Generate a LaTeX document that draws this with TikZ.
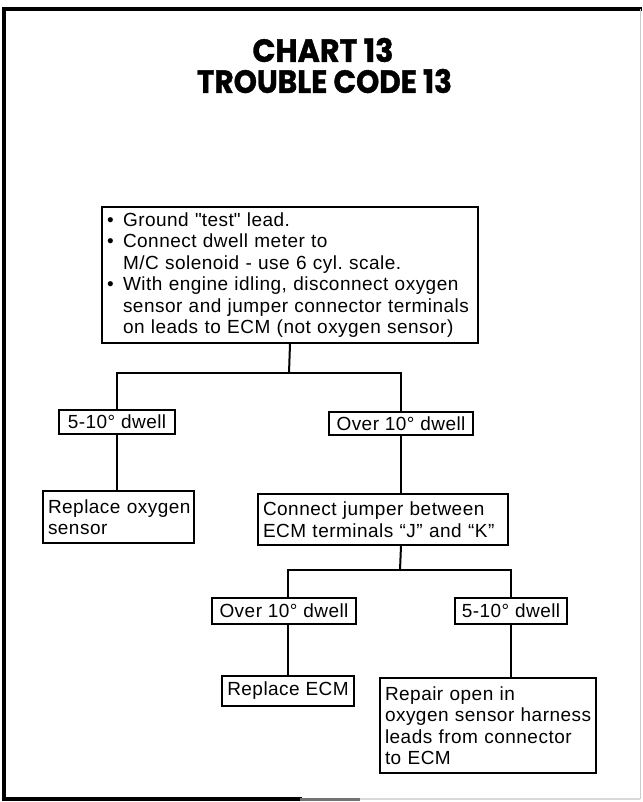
\documentclass[tikz,border=0pt]{standalone}
\usepackage{fontspec}
\usepackage{graphicx}
\setmainfont{Liberation Sans}[LetterSpace=2.5]
\newfontfamily\headfont{Poppins}[FakeBold=1.2]
\frenchspacing
\begin{document}
\begin{tikzpicture}[x=1pt,y=-1pt,
  box/.style={draw,line width=2pt,anchor=north west,inner xsep=5pt,inner ysep=0pt,
    font=\fontsize{19}{21.5}\selectfont},
  lbox/.style={box,align=left},
  cbox/.style={box,align=center},
  link/.style={line width=2pt},
  frame/.style={line width=3.5pt,line cap=rect}]
\useasboundingbox (0,0) rectangle (642,802);

% page frame
\draw[frame] (640,9) -- (4,9) -- (4,799) -- (300,799);
\draw[line width=3pt,black!55] (300,799) -- (360,799);
\draw[line width=2pt,black!15] (360,799) -- (640,799);
\draw[line width=1pt,black!20] (640,9) -- (640,799);

% heading
\node[inner sep=0pt] (head1) at (323,50) {\resizebox{141pt}{24pt}{\headfont\bfseries CHART 13}};
\node[inner sep=0pt] (head2) at (324.5,81) {\resizebox{255pt}{24pt}{\headfont\bfseries TROUBLE CODE 13}};

% first test
\node[lbox,minimum width=376pt,minimum height=136pt,text width=366pt] (main) at (101,206)
 {\mbox{\makebox[16pt][l]{\textbullet}Ground \textquotedbl test\textquotedbl\ lead.}\\
  \mbox{\makebox[16pt][l]{\textbullet}Connect dwell meter to}\\
  \mbox{\hspace*{16pt}M/C solenoid - use 6 cyl. scale.}\\
  \mbox{\makebox[16pt][l]{\textbullet}With engine idling, disconnect oxygen}\\
  \mbox{\hspace*{16pt}sensor and jumper connector terminals}\\
  \mbox{\hspace*{16pt}on leads to ECM (not oxygen sensor)}};

% first readings
\node[cbox,minimum width=116pt,minimum height=24pt] (low1) at (58,409) {5-10° dwell};
\node[cbox,minimum width=144pt,minimum height=23pt] (high1) at (328,411) {Over 10° dwell};

\node[lbox,minimum width=151pt,minimum height=52pt,text width=141pt] (oxy) at (42,490)
 {\mbox{Replace oxygen}\\ \mbox{sensor}};
\node[lbox,minimum width=250pt,minimum height=51pt,text width=240pt] (jump) at (257,493)
 {\mbox{Connect jumper between}\\ \mbox{ECM terminals “J” and “K”}};

% second readings
\node[cbox,minimum width=144pt,minimum height=26pt] (high2) at (211,597) {Over 10° dwell};
\node[cbox,minimum width=112pt,minimum height=26pt] (low2) at (454,597) {5-10° dwell};

\node[cbox,minimum width=132pt,minimum height=30pt] (ecm) at (221,675) {Replace ECM};
\node[lbox,minimum width=216pt,minimum height=95pt,text width=206pt] (harness) at (379,677)
 {\mbox{Repair open in}\\ \mbox{oxygen sensor harness}\\ \mbox{leads from connector}\\ \mbox{to ECM}};

% connectors
\coordinate (split1) at (289,373);
\draw[link] (main.south) -- (split1);
\draw[link] (low1.north) |- (split1) -| (high1.north);
\draw[link] (low1.south) -- (oxy.north -| low1.south);
\draw[link] (high1.south) -- (jump.north -| high1.south);

\coordinate (split2) at (400,570);
\draw[link] (jump.south -| high1.south) -- (split2);
\draw[link] (high2.north -| ecm.north) |- (split2) -| (low2.north);
\draw[link] (high2.south -| ecm.north) -- (ecm.north);
\draw[link] (low2.south) -- (harness.north -| low2.south);
\end{tikzpicture}
\end{document}
